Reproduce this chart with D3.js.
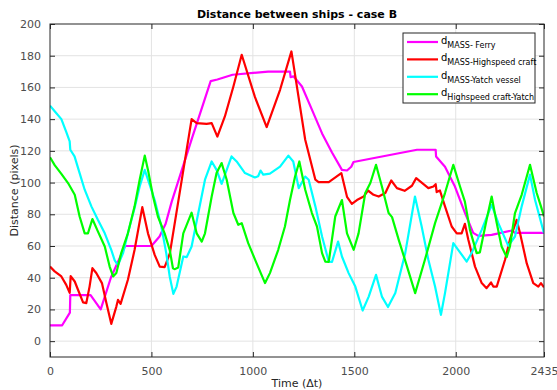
<!DOCTYPE html>
<html>
<head>
    <meta charset="UTF-8">
    <title>Distance between ships - case B</title>
    <style>
        body { margin: 0; background: #fff; }
        svg text { font-family: "DejaVu Sans", sans-serif; }
        .tick text { fill: #4d4d4d; font-size: 11px; }
        .grid line { stroke: #e3e3e3; stroke-width: 1px; }
        .serie { fill: none; stroke-width: 2.2px; stroke-linejoin: round; }
    </style>
    <script src="https://d3js.org/d3.v7.min.js"></script>
</head>
<body>
<div id="chart"></div>
<script>
// time steps (Δt) and distances (pixels)
var ferry = [[0,10],[60,10],[98,18],[100,29],[200,29],[250,20],[300,40],[370,60],[500,60],[540,66],[570,74],[600,88],
    [700,128],[792,164],[825,165],[900,168],[1075,170],[1183,170],[1186,166.5],[1200,167],[1242,160.6],[1291,146],[1341,131],
    [1390,119],[1439,108],[1464,107.6],[1485,110],[1496,113],[1809,120.7],[1901,120.7],[1903,116.5],[1947,110],[1996,97.5],
    [2045,81],[2086,68.3],[2111,66.4],[2177,67],[2276,69.8],[2292,68.3],[2435,68.3]];

var highspeed = [[0,47],[23,44],[56,40.8],[80,35.5],[97,30.4],[102,41],[122,37.6],[138,32.4],[163,24.4],[179,24],[195,34.4],
    [209,46],[228,43],[256,36.6],[278,24],[302,10.9],[327,21.8],[335,26],[348,23.5],[384,38.7],[417,57.6],[455,84.5],[483,68],
    [516,54.4],[541,47],[565,46.7],[575,50],[591,55.5],[698,140],[723,137.5],[772,137],[797,137.5],[825,129],[862,141.7],
    [904,160.6],[945,180.6],[1010,154],[1068,135],[1134,158.5],[1190,182.7],[1258,127],[1308,101.8],[1324,100.3],[1374,100.3],
    [1436,106],[1464,91],[1488,86.6],[1513,89],[1546,91.2],[1567,95],[1595,92.3],[1620,91.2],[1653,93.4],[1682,101.3],
    [1710,96.5],[1748,94.8],[1784,98],[1805,102.8],[1865,96.5],[1890,97.5],[1901,99],[1906,94],[1922,95],[1947,85],[1980,72.3],
    [2005,68],[2029,68],[2045,74],[2062,64],[2095,47],[2128,36.6],[2152,33.4],[2174,37],[2185,34.4],[2202,34.4],[2243,51.3],
    [2267,64],[2300,76.5],[2317,68],[2350,49],[2382,36.6],[2407,34.4],[2420,36.6],[2435,34]];

var yatch = [[0,148.5],[23,145],[56,140],[80,132],[97,126],[100,120.7],[121,116.5],[146,106],[171,95.5],[204,85],[236,76.5],
    [270,68],[302,57.6],[319,50.9],[335,48],[360,55.5],[384,68],[417,84],[442,97.5],[467,108],[483,101.8],[516,89],[549,72.3],
    [573,55.5],[590,40.8],[608,29.8],[624,34.4],[657,53.4],[674,53],[698,59.7],[731,80.8],[764,101.8],[797,113.3],[821,108],
    [846,99.2],[871,108],[895,116.5],[920,113.3],[961,106],[1010,103.2],[1026,104],[1038,107.6],[1051,105],[1084,105.6],
    [1134,110],[1175,117],[1199,113.3],[1226,96.5],[1258,103.8],[1275,101.8],[1308,85],[1341,66],[1374,50.2],[1390,50],
    [1420,62.8],[1439,53.4],[1472,42.9],[1505,34.4],[1541,19.3],[1571,28.1],[1607,41.8],[1636,28.1],[1666,21.5],[1702,30.3],
    [1751,55.5],[1799,91.2],[1832,72.3],[1865,51.3],[1898,34.4],[1927,16.6],[1947,30.3],[1988,61.8],[2012,57.6],[2054,50.2],
    [2078,55.5],[2128,70.2],[2177,86],[2210,74.4],[2259,60.1],[2292,66],[2325,85],[2366,105],[2391,89],[2435,68]];

var craftYatch = [[0,116],[23,111],[56,105.5],[89,99.7],[122,92.3],[146,78.6],[171,68],[187,68],[209,77],[236,69.2],[270,59.7],
    [294,47],[311,40.8],[327,43],[351,55.5],[384,68],[417,85],[442,101.8],[467,117],[483,108],[508,91.2],[532,78.6],[565,68],
    [590,57.6],[606,46],[616,45.4],[632,46.5],[657,68],[698,81],[723,68],[748,62.8],[764,68],[797,91.2],[821,106],[846,112.3],
    [871,101.8],[904,80.8],[928,73.4],[945,74.4],[977,61.8],[1018,49.2],[1060,36.6],[1084,42.9],[1125,57.6],[1158,72.3],
    [1183,89],[1208,103.8],[1229,113.3],[1258,95.5],[1291,80.8],[1316,72.3],[1341,55.5],[1357,50.2],[1374,50],[1406,78.6],
    [1439,89],[1464,68],[1497,57.6],[1521,68],[1554,93.4],[1579,99.7],[1607,111.2],[1636,97.5],[1669,80.8],[1686,78.2],
    [1719,63.9],[1760,47],[1800,30.3],[1848,51.3],[1898,74.4],[1947,93.4],[1988,111.2],[2021,97.5],[2045,88],[2070,70.2],
    [2103,55.5],[2119,56],[2152,76.5],[2177,91.2],[2202,74.4],[2226,59.7],[2251,53],[2267,59.7],[2292,80.8],[2325,92.3],
    [2366,111.2],[2399,93.4],[2420,85],[2435,78.6]];

var xTicks = [0, 500, 1000, 1500, 2000, 2435];
var yTicks = [0, 20, 40, 60, 80, 100, 120, 140, 160, 180, 200];

var series = [
    {name: "MASS- Ferry", data: ferry, color: "#ff00ff"},
    {name: "MASS-Highspeed craft", data: highspeed, color: "#ff0000"},
    {name: "MASS-Yatch vessel", data: yatch, color: "#00ffff"},
    {name: "Highspeed craft-Yatch", data: craftYatch, color: "#00ff00"}
];

var W = 557, H = 390;
var margin = {top: 24, right: 13, bottom: 33, left: 50},
    width = W - margin.left - margin.right,
    height = H - margin.top - margin.bottom;

var x = d3.scaleLinear().domain([0, 2435]).range([0, width]);
var y = d3.scaleLinear().domain([-10, 200]).range([height, 0]);

var svg = d3.select("#chart").append("svg")
    .attr("width", W)
    .attr("height", H);

var g = svg.append("g")
    .attr("transform", "translate(" + margin.left + "," + margin.top + ")");

// grid
g.append("g").attr("class", "grid")
    .selectAll("line").data(xTicks.slice(1, -1)).enter().append("line")
    .attr("x1", function (d) { return x(d); }).attr("x2", function (d) { return x(d); })
    .attr("y1", 0).attr("y2", height);
g.append("g").attr("class", "grid")
    .selectAll("line").data(yTicks.slice(0, -1)).enter().append("line")
    .attr("x1", 0).attr("x2", width)
    .attr("y1", function (d) { return y(d); }).attr("y2", function (d) { return y(d); });

// lines
g.append("clipPath").attr("id", "clip")
    .append("rect").attr("width", width).attr("height", height);

var line = d3.line()
    .x(function (d) { return x(d[0]); })
    .y(function (d) { return y(d[1]); });

g.append("g").attr("clip-path", "url(#clip)")
    .selectAll("path").data(series).enter().append("path")
    .attr("class", "serie")
    .attr("stroke", function (d) { return d.color; })
    .attr("d", function (d) { return line(d.data); });

// axes, ticks inward on all four sides
function styleAxis(sel) {
    sel.select(".domain").remove();
    sel.selectAll(".tick line").attr("stroke", "#262626");
}
g.append("g").attr("transform", "translate(0," + height + ")")
    .call(d3.axisBottom(x).tickValues(xTicks).tickSizeInner(-5).tickSizeOuter(0).tickPadding(10).tickFormat(d3.format("d")))
    .call(styleAxis);
g.append("g")
    .call(d3.axisTop(x).tickValues(xTicks).tickSizeInner(-5).tickSizeOuter(0).tickFormat(""))
    .call(styleAxis);
g.append("g")
    .call(d3.axisLeft(y).tickValues(yTicks).tickSizeInner(-5).tickSizeOuter(0).tickPadding(9))
    .call(styleAxis);
g.append("g").attr("transform", "translate(" + width + ",0)")
    .call(d3.axisRight(y).tickValues(yTicks).tickSizeInner(-5).tickSizeOuter(0).tickFormat(""))
    .call(styleAxis);
g.selectAll(".tick text").attr("fill", "#4d4d4d").style("font-size", "11px");

g.append("rect")
    .attr("width", width).attr("height", height)
    .attr("fill", "none").attr("stroke", "#262626").attr("stroke-width", 1);

// titles
svg.append("text")
    .attr("x", margin.left + width / 2).attr("y", 18)
    .attr("text-anchor", "middle")
    .style("font-size", "11px").style("font-weight", "bold").attr("fill", "#000")
    .text("Distance between ships - case B");
svg.append("text")
    .attr("x", margin.left + width / 2).attr("y", 387)
    .attr("text-anchor", "middle")
    .style("font-size", "11px").attr("fill", "#262626")
    .text("Time (\u0394t)");
svg.append("text")
    .attr("transform", "translate(18," + (margin.top + height / 2) + ") rotate(-90)")
    .attr("text-anchor", "middle")
    .style("font-size", "11px").attr("fill", "#262626")
    .text("Distance (pixels)");

// legend
var legend = svg.append("g").attr("transform", "translate(403,33)");
legend.append("rect")
    .attr("width", 132).attr("height", 70)
    .attr("fill", "#fff").attr("stroke", "#262626").attr("stroke-width", 1);
var item = legend.selectAll("g.item").data(series).enter().append("g")
    .attr("class", "item")
    .attr("transform", function (d, i) { return "translate(0," + (9 + i * 17.4) + ")"; });
item.append("line")
    .attr("x1", 4).attr("x2", 35)
    .attr("stroke", function (d) { return d.color; }).attr("stroke-width", 2.2);
var lt = item.append("text").attr("x", 38).attr("y", 2)
    .style("font-size", "10px").attr("fill", "#000");
lt.append("tspan").text("d");
lt.append("tspan").attr("dy", 4).style("font-size", "8px").text(function (d) { return d.name; });
</script>
</body>
</html>
